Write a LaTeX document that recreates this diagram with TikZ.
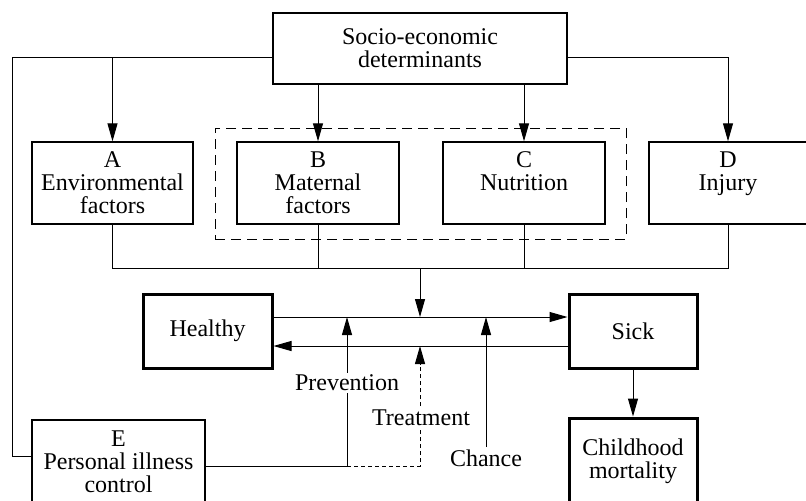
\documentclass[tikz,border=0pt]{standalone}
\usepackage{fontspec}
\setmainfont{Liberation Serif}
\usetikzlibrary{arrows.meta}

\begin{document}
\begin{tikzpicture}[x=0.5pt, y=-0.5pt, line width=0.5pt,
        every node/.style={align=center, font=\fontsize{12}{11.5}\selectfont},
        box/.style={draw, line width=0.7pt, inner sep=0pt},
        heavy/.style={draw, line width=1.5pt, inner sep=0pt},
        lbl/.style={fill=white, inner sep=1pt},
        arr/.style={-{Triangle[length=9pt,width=5pt]}}]
        \clip (0,0) rectangle (806,500);

        % Determinants
        \node[box, minimum width=147pt, minimum height=35.5pt] (socio) at (420,48.5) {Socio-economic\\determinants};
        \node[draw, dash pattern=on 5pt off 3pt, minimum width=205.5pt, minimum height=55.5pt] (group) at (420.5,183.5) {};
        \node[box, minimum width=80.5pt, minimum height=41pt] (A) at (112.5,183) {A\\Environmental\\factors};
        \node[box, minimum width=81pt, minimum height=41pt] (B) at (318,183) {B\\Maternal\\factors};
        \node[box, minimum width=81pt, minimum height=41pt] (C) at (524,183) {C\\Nutrition\\~};
        \node[box, minimum width=79pt, minimum height=41pt] (D) at (728,183) {D\\Injury\\~};
        \node[box, minimum width=86.5pt, minimum height=42pt] (E) at (118.5,462) {E\\Personal illness\\control};

        % States
        \node[heavy, minimum width=64.5pt, minimum height=37pt] (healthy) at (207.5,331) {Healthy};
        \node[heavy, minimum width=64pt, minimum height=37pt] (sick) at (633,331) {Sick};
        \node[heavy, minimum width=64pt, minimum height=43pt] (mort) at (633,461) {Childhood\\mortality};

        \coordinate (tl) at (12,57);
        \coordinate (tr) at (728,57);
        \coordinate (mix) at (420,268);
        \coordinate (pv) at (347,466);
        \path ([yshift=7pt]healthy.east) coordinate (hu) ([yshift=-7.5pt]healthy.east) coordinate (hd);

        % From the top box
        \draw (socio.west |- tl) -- (tl) |- ([yshift=3pt]E.west);
        \draw[arr] (A.north |- tl) -- (A.north);
        \draw[arr] (socio.east |- tr) -| (D.north);
        \draw[arr] (socio.south -| B.north) -- (B.north);
        \draw[arr] (socio.south -| C.north) -- (C.north);

        % Collector
        \draw (A.south) |- (D.south |- mix) -- (D.south);
        \draw (B.south) -- (B.south |- mix);
        \draw (C.south) -- (C.south |- mix);
        \draw[arr] (mix) -- (mix |- hu);

        % Healthy <-> Sick
        \draw[arr] (hu) -- (hu -| sick.west);
        \draw[arr] (hd -| sick.west) -- (hd);
        \draw[arr] (sick.south) -- (mort.north);

        % Control
        \draw[arr] ([yshift=-2pt]E.east) -- (pv) -- (pv |- hu);
        \draw[arr, dash pattern=on 2pt off 1.5pt] (pv) -| (mix |- hd);
        \node[lbl] (prevention) at (347,383) {Prevention};
        \node[lbl] (treatment) at (421,418) {Treatment};
        \node[lbl] (chance) at (486,458) {Chance};
        \draw[arr] (chance.north) -- (chance.north |- hu);
    \end{tikzpicture}
\end{document}
